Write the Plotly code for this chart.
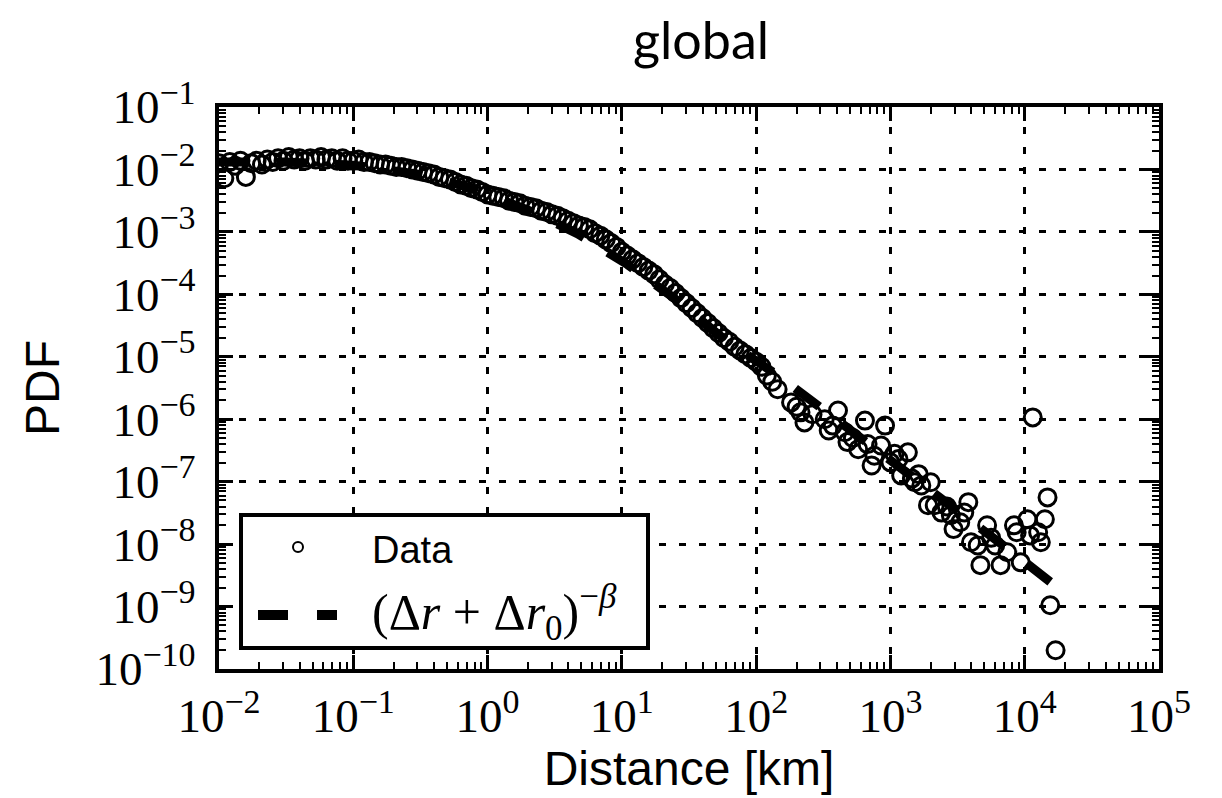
import plotly.graph_objects as go

# ---------------- data ----------------
dist_km = [
    1.000e-2, 1.096e-2, 1.202e-2, 1.318e-2, 1.445e-2, 1.585e-2, 1.738e-2, 1.905e-2, 2.089e-2, 2.291e-2,
    2.512e-2, 2.754e-2, 3.020e-2, 3.311e-2, 3.631e-2, 3.981e-2, 4.365e-2, 4.786e-2, 5.248e-2, 5.754e-2,
    6.310e-2, 6.918e-2, 7.586e-2, 8.318e-2, 9.120e-2, 1.000e-1, 1.096e-1, 1.202e-1, 1.318e-1, 1.445e-1,
    1.585e-1, 1.738e-1, 1.905e-1, 2.089e-1, 2.291e-1, 2.512e-1, 2.754e-1, 3.020e-1, 3.311e-1, 3.631e-1,
    3.981e-1, 4.365e-1, 4.786e-1, 5.248e-1, 5.754e-1, 6.310e-1, 6.918e-1, 7.586e-1, 8.318e-1, 9.120e-1,
    1.000, 1.096, 1.202, 1.318, 1.445, 1.585, 1.738, 1.905, 2.089, 2.291,
    2.512, 2.754, 3.020, 3.311, 3.631, 3.981, 4.365, 4.786, 5.248, 5.754,
    6.310, 6.918, 7.586, 8.318, 9.120, 10.00, 10.96, 12.02, 13.18, 14.45,
    15.85, 17.38, 19.05, 20.89, 22.91, 25.12, 27.54, 30.20, 33.11, 36.31,
    39.81, 43.65, 47.86, 52.48, 57.54, 63.10, 69.18, 75.86, 83.18, 91.20,
    100.0, 109.6, 120.2, 131.8, 144.5,
    182, 200, 214, 229, 263, 324, 347, 372, 407, 457,
    479, 525, 575, 646, 676, 724, 759, 851, 912, 1000,
    1072, 1148, 1202, 1349, 1445, 1514, 1622, 1698, 1905, 1995,
    2138, 2399, 2630, 2818, 2951, 3311, 3548, 3802, 3981, 4467,
    4677, 5248, 5623, 6026, 6607, 7413, 8318, 8710, 9333, 10470,
    10960, 11480, 12590, 13180, 14130, 14790, 15490, 16980,
]
pdf = [
    1.259e-2, 7.24e-3, 1.318e-2, 1.148e-2, 1.380e-2, 7.59e-3, 1.259e-2, 1.380e-2, 1.202e-2, 1.445e-2,
    1.318e-2, 1.514e-2, 1.380e-2, 1.585e-2, 1.445e-2, 1.514e-2, 1.380e-2, 1.514e-2, 1.445e-2, 1.585e-2,
    1.445e-2, 1.514e-2, 1.380e-2, 1.514e-2, 1.380e-2, 1.380e-2, 1.445e-2, 1.318e-2, 1.318e-2, 1.259e-2,
    1.202e-2, 1.202e-2, 1.148e-2, 1.096e-2, 1.096e-2, 1.047e-2, 1.000e-2, 9.55e-3, 9.12e-3, 8.71e-3,
    8.32e-3, 7.59e-3, 7.24e-3, 6.92e-3, 6.31e-3, 5.75e-3, 5.50e-3, 5.01e-3, 4.79e-3, 4.37e-3,
    3.98e-3, 3.80e-3, 3.63e-3, 3.47e-3, 3.16e-3, 3.02e-3, 2.88e-3, 2.63e-3, 2.51e-3, 2.40e-3,
    2.19e-3, 2.09e-3, 1.91e-3, 1.82e-3, 1.66e-3, 1.51e-3, 1.38e-3, 1.26e-3, 1.20e-3, 1.10e-3,
    9.55e-4, 8.71e-4, 7.59e-4, 6.61e-4, 5.75e-4, 4.79e-4, 4.17e-4, 3.63e-4, 3.16e-4, 2.75e-4,
    2.40e-4, 2.09e-4, 1.74e-4, 1.45e-4, 1.26e-4, 1.05e-4, 8.71e-5, 7.24e-5, 6.03e-5, 5.01e-5,
    4.17e-5, 3.47e-5, 2.88e-5, 2.40e-5, 2.00e-5, 1.74e-5, 1.45e-5, 1.26e-5, 1.10e-5, 9.55e-6,
    8.32e-6, 6.92e-6, 5.01e-6, 3.98e-6, 3.02e-6,
    1.86e-6, 1.58e-6, 1.29e-6, 8.9e-7, 1.20e-6, 1.0e-6, 6.6e-7, 7.9e-7, 1.38e-6, 6.2e-7,
    4.3e-7, 5.0e-7, 3.3e-7, 9.5e-7, 4.0e-7, 1.82e-7, 2.6e-7, 3.8e-7, 7.9e-7, 2.04e-7,
    2.8e-7, 2.3e-7, 1.26e-7, 2.95e-7, 1.12e-7, 9.8e-8, 1.32e-7, 8.7e-8, 4.2e-8, 9.8e-8,
    4.2e-8, 3.2e-8, 4.0e-8, 2.9e-8, 1.74e-8, 2.24e-8, 3.2e-8, 4.7e-8, 1.07e-8, 9.5e-9,
    4.6e-9, 2.0e-8, 1.26e-8, 9.5e-9, 4.6e-9, 7.4e-9, 2.0e-8, 1.55e-8, 5.1e-9, 2.5e-8,
    1.38e-8, 1.07e-6, 1.55e-8, 1.07e-8, 2.5e-8, 5.6e-8, 1.05e-9, 2.0e-10,
]

fit_km = [0.01, 0.0316, 0.1, 0.316, 0.74, 2.0, 4.7, 11, 24.5, 61, 144, 283, 676, 1480, 3550, 8300, 16200]
fit_pdf = [1.32e-2, 1.32e-2, 1.17e-2, 8.3e-3, 5.1e-3, 2.24e-3, 9.3e-4, 3.0e-4, 8.7e-5, 1.74e-5,
           5.1e-6, 1.7e-6, 4.3e-7, 1.26e-7, 2.8e-8, 7.1e-9, 2.3e-9]

x_tickvals = [1e-2, 1e-1, 1e0, 1e1, 1e2, 1e3, 1e4, 1e5]
x_exponents = ["−2", "−1", "0", "1", "2", "3", "4", "5"]
y_tickvals = [1e-10, 1e-9, 1e-8, 1e-7, 1e-6, 1e-5, 1e-4, 1e-3, 1e-2, 1e-1]
y_exponents = ["−10", "−9", "−8", "−7", "−6", "−5", "−4", "−3", "−2", "−1"]


def power_label(e):
    return "10<sup><span style='font-size:34px'>" + e + "</span></sup>"


# ---------------- figure ----------------
W, H = 1222, 798
OFF = 8                       # page body margin
PL, PR, PT, PB = 219, 1159, 107, 669   # plot box on screen
L, T = PL - OFF, PT - OFF
R = W - L - (PR - PL)
B = H - T - (PB - PT)

fig = go.Figure()
fig.add_trace(go.Scatter(
    x=fit_km, y=fit_pdf, mode="lines", name="(Δr + Δr0)^−β",
    line=dict(color="black", width=9, dash="30px,28px"),
    showlegend=False,
))
fig.add_trace(go.Scatter(
    x=dist_km, y=pdf, mode="markers", name="Data",
    marker=dict(symbol="circle-open", size=17, color="black", line=dict(width=3, color="black")),
    showlegend=False,
))

serif = "Liberation Serif, Times New Roman, serif"
sans = "Liberation Sans, Arial, sans-serif"

common_axis = dict(
    type="log",
    showline=True, linewidth=4, linecolor="black", mirror="ticks",
    ticks="inside", ticklen=14, tickwidth=3, tickcolor="black",
    showgrid=True, gridcolor="black", gridwidth=2.5, griddash="7px,13px",
    minor=dict(ticks="inside", ticklen=7, tickwidth=2, tickcolor="black", dtick="D1", showgrid=False),
    tickfont=dict(family=serif, size=47, color="black"),
    zeroline=False,
)

fig.update_xaxes(
    **common_axis,
    range=[-2, 5],
    tickmode="array", tickvals=x_tickvals, ticktext=[power_label(e) for e in x_exponents],
    ticklabelstandoff=3,
    title=dict(text="Distance [km]", font=dict(family=sans, size=48, color="black"), standoff=6),
)
fig.update_yaxes(
    **common_axis,
    range=[-10, -1],
    tickmode="array", tickvals=y_tickvals, ticktext=[power_label(e) for e in y_exponents],
    ticklabelstandoff=10,
    title=dict(text="PDF", font=dict(family=sans, size=48, color="black"), standoff=22),
)


# manual legend (decoration, placed in paper coordinates from screen pixels)
def px_x(p):
    return (p - PL) / (PR - PL)


def px_y(p):
    return (PB - p) / (PB - PT)


shapes = [
    dict(type="rect", xref="paper", yref="paper", x0=px_x(241), x1=px_x(648), y0=px_y(648), y1=px_y(515),
         line=dict(color="black", width=4), fillcolor="white", layer="above"),
    dict(type="circle", xref="paper", yref="paper", x0=px_x(293), x1=px_x(303), y0=px_y(552), y1=px_y(542),
         line=dict(color="black", width=2), fillcolor="white", layer="above"),
    dict(type="rect", xref="paper", yref="paper", x0=px_x(258), x1=px_x(288), y0=px_y(620), y1=px_y(610),
         line=dict(width=0), fillcolor="black", layer="above"),
    dict(type="rect", xref="paper", yref="paper", x0=px_x(317), x1=px_x(337), y0=px_y(620), y1=px_y(610),
         line=dict(width=0), fillcolor="black", layer="above"),
]
annotations = [
    dict(text="Data", xref="paper", yref="paper", x=px_x(370), y=px_y(550), xanchor="left", yanchor="middle",
         showarrow=False, font=dict(family=sans, size=38, color="black")),
    dict(text="(Δ<i>r</i> + Δ<i>r</i><sub>0</sub>)<sup>−<i>β</i></sup>", xref="paper", yref="paper",
         x=px_x(370), y=px_y(612), xanchor="left", yanchor="middle",
         showarrow=False, font=dict(family=serif, size=50, color="black")),
]

fig.update_layout(
    width=W, height=H,
    margin=dict(l=L, r=R, t=T, b=B, pad=0),
    paper_bgcolor="white", plot_bgcolor="white",
    title=dict(text="global", x=(701 - OFF) / W, xanchor="center", y=1 - 33 / H, yanchor="middle",
               xref="container", yref="container",
               font=dict(family="Lato, Open Sans, sans-serif", size=52, color="black")),
    showlegend=False,
    shapes=shapes,
    annotations=annotations,
)

fig.write_html("out.html")
